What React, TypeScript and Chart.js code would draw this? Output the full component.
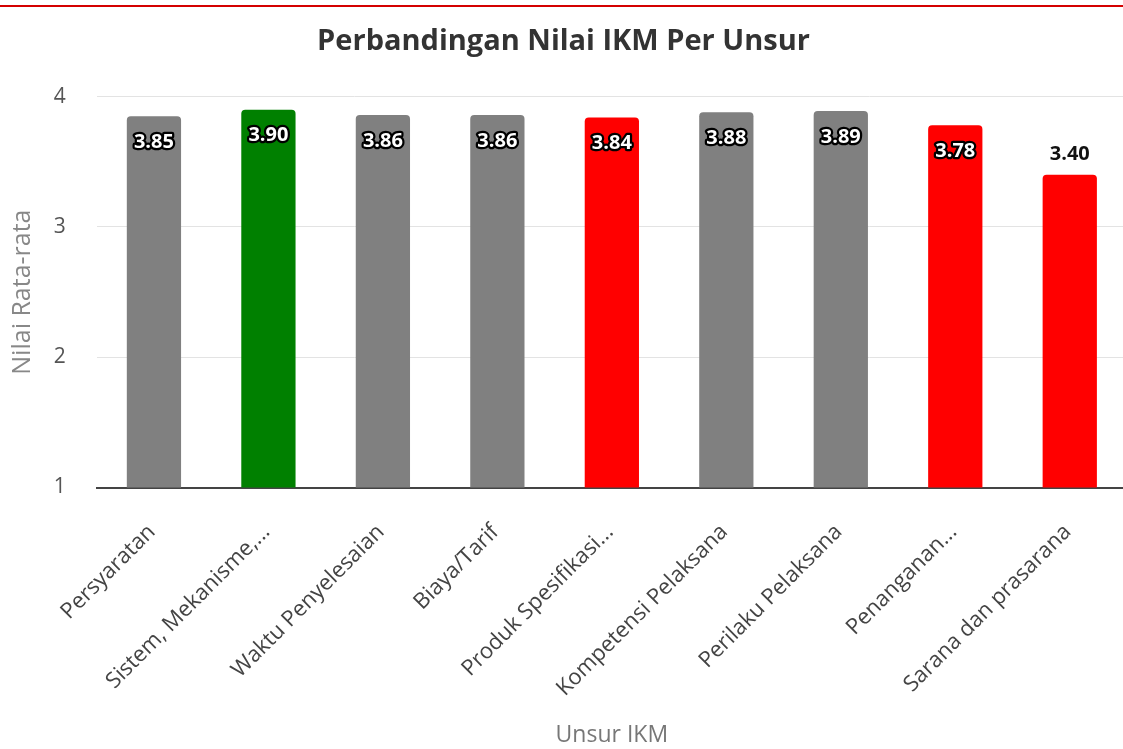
import React, { useEffect, useRef } from "react";
import { Chart, registerables } from "chart.js";

Chart.register(...registerables);

const categories = [
  "Persyaratan",
  "Sistem, Mekanisme,...",
  "Waktu Penyelesaian",
  "Biaya/Tarif",
  "Produk Spesifikasi...",
  "Kompetensi Pelaksana",
  "Perilaku Pelaksana",
  "Penanganan...",
  "Sarana dan prasarana",
];
const values = [3.85, 3.9, 3.86, 3.86, 3.84, 3.88, 3.89, 3.78, 3.4];
const barColors = [
  "#808080",
  "#008000",
  "#808080",
  "#808080",
  "#ff0000",
  "#808080",
  "#808080",
  "#ff0000",
  "#ff0000",
];
const yTicks = [1, 2, 3, 4];
const LABEL_INSIDE_MIN = 3.5;

const FONT = "'Open Sans', 'DejaVu Sans', sans-serif";

const valueLabelPlugin = {
  id: "valueLabels",
  afterDatasetsDraw(chart: any) {
    const ctx = chart.ctx;
    const meta = chart.getDatasetMeta(0);
    ctx.save();
    ctx.font = `bold 20px ${FONT}`;
    ctx.textAlign = "center";
    ctx.textBaseline = "middle";
    ctx.lineJoin = "round";
    meta.data.forEach((bar: any, i: number) => {
      const v = values[i];
      const text = v.toFixed(2);
      const { x, y } = bar.getProps(["x", "y"], true);
      if (v >= LABEL_INSIDE_MIN) {
        const ty = y + 26;
        ctx.lineWidth = 4.5;
        ctx.strokeStyle = "#000";
        ctx.strokeText(text, x, ty);
        ctx.fillStyle = "#fff";
        ctx.fillText(text, x, ty);
      } else {
        ctx.fillStyle = "#111";
        ctx.fillText(text, x, y - 21);
      }
    });
    ctx.restore();
  },
};

const xLabelPlugin = {
  id: "xLabels",
  afterDraw(chart: any) {
    const ctx = chart.ctx;
    const scale = chart.scales.x;
    ctx.save();
    ctx.font = `22px ${FONT}`;
    ctx.fillStyle = "#444";
    ctx.textAlign = "right";
    ctx.textBaseline = "middle";
    categories.forEach((label, i) => {
      const px = scale.getPixelForValue(i);
      ctx.save();
      ctx.translate(px - 2, scale.top + 41);
      ctx.rotate(-Math.PI / 4);
      ctx.fillText(label, 0, 0);
      ctx.restore();
    });
    ctx.restore();
  },
};

export default function App() {
  const canvasRef = useRef<HTMLCanvasElement | null>(null);

  useEffect(() => {
    if (!canvasRef.current) return;
    const chart = new Chart(canvasRef.current, {
      type: "bar",
      data: {
        labels: categories,
        datasets: [
          {
            data: values,
            backgroundColor: barColors,
            borderRadius: 4,
            borderSkipped: "start",
            categoryPercentage: 1,
            barPercentage: 0.474,
          },
        ],
      },
      options: {
        animation: false,
        responsive: true,
        maintainAspectRatio: false,
        layout: { padding: 0 },
        plugins: {
          legend: { display: false },
          tooltip: { enabled: false },
          title: {
            display: true,
            text: "Perbandingan Nilai IKM Per Unsur",
            color: "#333",
            font: { family: FONT, size: 29, weight: "bold", lineHeight: 1.2 },
            padding: { top: 24.6, bottom: 37.3 },
          },
        },
        scales: {
          x: {
            grid: { display: false, drawTicks: false },
            border: { display: true, color: "#444", width: 2 },
            ticks: { display: false, autoSkip: false },
            title: {
              display: true,
              text: "Unsur IKM",
              color: "#777",
              font: { family: FONT, size: 23, lineHeight: 1.2 },
              padding: { top: 2, bottom: 0 },
            },
            afterFit: (scale: any) => {
              scale.height = 261.5;
            },
          },
          y: {
            min: 1,
            max: 4,
            grid: { color: "#e3e3e3", drawTicks: false, lineWidth: 1 },
            border: { display: false },
            ticks: {
              stepSize: 1,
              color: "#555",
              font: { family: FONT, size: 21 },
              padding: 31,
              callback: (v: any) => (yTicks.includes(Number(v)) ? String(v) : ""),
            },
            title: {
              display: true,
              text: "Nilai Rata-rata",
              color: "#888",
              font: { family: FONT, size: 25, lineHeight: 1.2 },
              padding: { top: 8, bottom: 0 },
            },
            afterFit: (scale: any) => {
              scale.width = 96.7;
            },
          },
        },
      },
      plugins: [valueLabelPlugin, xLabelPlugin],
    });
    return () => chart.destroy();
  }, []);

  return (
    <div
      style={{
        position: "fixed",
        left: 0,
        top: 0,
        width: 1127,
        height: 749,
        background: "#fff",
      }}
    >
      <div
        style={{
          position: "absolute",
          left: 0,
          top: 5,
          width: 1123,
          height: 2,
          background: "#d40000",
        }}
      />
      <canvas ref={canvasRef} />
    </div>
  );
}
